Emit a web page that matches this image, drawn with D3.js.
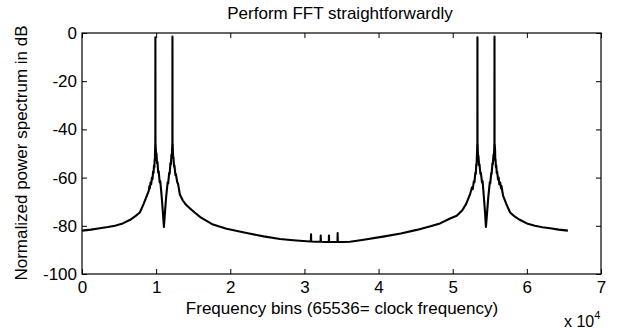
<!DOCTYPE html>
<html>
<head>
<meta charset="utf-8">
<style>
  body { margin: 0; background: #fff; }
  svg text { font-family: "Liberation Sans", Arial, sans-serif; fill: #000; }
  .axis path.domain { display: none; }
  .axis line { stroke: #000; }
</style>
<script src="https://d3js.org/d3.v7.min.js"></script>
</head>
<body>
<svg width="617" height="329"></svg>
<script>
// frequency bins and power (dB)
var bins = [0, 1200, 2400, 3500, 4450, 5500, 6500, 7200, 7800, 8300, 8750, 9000, 9100, 9140, 9250, 9330, 9430, 9500, 9590, 9650, 9710, 9760, 9800, 9830, 9850, 9870, 9880, 9890, 9900, 9910, 9920,
  9950, 10000, 10050, 10120, 10180, 10280, 10350, 10480, 10560, 10750, 10900, 11050, 11200, 11350, 11550, 11620, 11760, 11820, 11930, 11990, 12060, 12110, 12150, 12180, 12190, 12200, 12210, 12230,
  12260, 12300, 12330, 12420, 12470, 12600, 12660, 12850, 12950, 13200, 13600, 14000, 14570, 15200, 16000, 17670, 19500, 22200, 24500, 26700, 28500, 30300,
  30870, 30890, 30910, 31500, 32180, 32200, 32220, 32800, 33290, 33310, 33330, 33900, 34460, 34480, 34500, 35200, 36150, 38000, 40600, 43000, 45140, 47000, 48290, 49640, 50540, 51300, 51800, 52330,
  52600, 52700, 52850, 52930, 53050, 53110, 53180, 53220, 53260, 53290, 53310, 53326, 53336, 53346, 53360,
  53390, 53430, 53470, 53560, 53610, 53740, 53800, 53950, 54030, 54200, 54350, 54480, 54650, 54800, 55000, 55060, 55200, 55250, 55360, 55410, 55500, 55550, 55600, 55615, 55626, 55636, 55646, 55660,
  55690, 55720, 55740, 55780, 55830, 55880, 55940, 56000, 56110, 56200, 56290, 56400, 56520, 56580, 56790, 57240, 57740, 58300, 59040, 60000, 61090, 62100, 63140, 64300, 65536];
var powerDb = [-82, -81.6, -81, -80.5, -80, -79, -77.5, -76, -74.5, -71, -67.5, -65.5, -63.5, -64.5, -62, -62.8, -60, -60.8, -57.5, -58.2, -55, -55.8, -52.5, -53, -49, -47.5, -46, -46, -1.8, -46, -46,
  -48, -50.5, -50, -54, -53.5, -58, -57.5, -62, -61.5, -68, -74, -80.5, -74, -68, -62, -62.5, -58, -58.5, -54, -54.5, -50.5, -51, -48, -46, -46, -1.5, -46, -46,
  -49, -52, -51.5, -55.5, -55, -59, -58.5, -62, -62.5, -67, -69.5, -71.2, -72.8, -74.5, -76.5, -79.5, -81.2, -83, -84.4, -85.5, -86, -86.4,
  -86.5, -83.5, -86.5, -86.6, -86.6, -84, -86.6, -86.7, -86.7, -84, -86.7, -86.7, -86.7, -83, -86.7, -86.7, -86.6, -85.8, -84.5, -83.2, -81.7, -80.2, -79, -77, -75.8, -73.5, -71, -67,
  -64, -64.8, -61.5, -62, -58, -58.5, -54.5, -55, -51, -49, -46, -46, -1.8, -46, -46,
  -49, -51.5, -51, -55, -54.5, -58.5, -58, -62, -61.5, -68, -74, -80.5, -74, -68, -62, -62.5, -58, -58.5, -54, -54.5, -50.5, -51, -48, -46, -46, -1.5, -46, -46,
  -47.5, -49, -53, -52.5, -55.8, -55, -58.2, -57.5, -60.8, -60, -62.8, -62, -64.5, -63.5, -67.5, -71, -74.5, -76, -77.5, -79, -80, -80.6, -81, -81.6, -82];

var xTicks = [0, 10000, 20000, 30000, 40000, 50000, 60000, 70000];
var yTicks = [-100, -80, -60, -40, -20, 0];

var svg = d3.select("svg");
var plotL = 82, plotR = 601, plotT = 33, plotB = 274;

var x = d3.scaleLinear().domain([0, 70000]).range([plotL, plotR]);
var y = d3.scaleLinear().domain([-100, 0]).range([plotB, plotT]);

// spectrum line
var line = d3.line()
  .x(function (d, i) { return x(bins[i]); })
  .y(function (d) { return y(d); });

svg.append("path")
  .datum(powerDb)
  .attr("d", line)
  .attr("fill", "none")
  .attr("stroke", "#000")
  .attr("stroke-width", 2.1)
  .attr("stroke-linejoin", "round");

// axes, ticks pointing inward on every side
svg.append("g").attr("class", "axis")
  .attr("transform", "translate(0," + plotB + ")")
  .call(d3.axisBottom(x).tickValues(xTicks).tickSize(-5).tickPadding(7)
    .tickFormat(function (d) { return String(d / 10000); }))
  .selectAll("text").attr("font-size", 17).attr("dy", "0.71em");

svg.append("g").attr("class", "axis")
  .attr("transform", "translate(0," + plotT + ")")
  .call(d3.axisTop(x).tickValues(xTicks).tickSize(-5).tickFormat(""));

svg.append("g").attr("class", "axis")
  .attr("transform", "translate(" + plotL + ",0)")
  .call(d3.axisLeft(y).tickValues(yTicks).tickSize(-5).tickPadding(5)
    .tickFormat(function (d) { return String(d); }))
  .selectAll("text").attr("font-size", 17);

svg.append("g").attr("class", "axis")
  .attr("transform", "translate(" + plotR + ",0)")
  .call(d3.axisRight(y).tickValues(yTicks).tickSize(-5).tickFormat(""));

svg.append("rect")
  .attr("x", plotL).attr("y", plotT)
  .attr("width", plotR - plotL).attr("height", plotB - plotT)
  .attr("fill", "none").attr("stroke", "#000").attr("stroke-width", 1.2);

// labels
svg.append("text")
  .attr("x", 340).attr("y", 19)
  .attr("text-anchor", "middle").attr("font-size", 17)
  .text("Perform FFT straightforwardly");

svg.append("text")
  .attr("x", 342).attr("y", 314)
  .attr("text-anchor", "middle").attr("font-size", 17)
  .text("Frequency bins (65536= clock frequency)");

svg.append("text")
  .attr("transform", "translate(27,153) rotate(-90)")
  .attr("text-anchor", "middle").attr("font-size", 17)
  .text("Normalized power spectrum in dB");

var mult = svg.append("text").attr("x", 564).attr("y", 327).attr("font-size", 16);
mult.append("tspan").text("x 10");
mult.append("tspan").attr("dy", -8).attr("font-size", 11).text("4");
</script>
</body>
</html>
